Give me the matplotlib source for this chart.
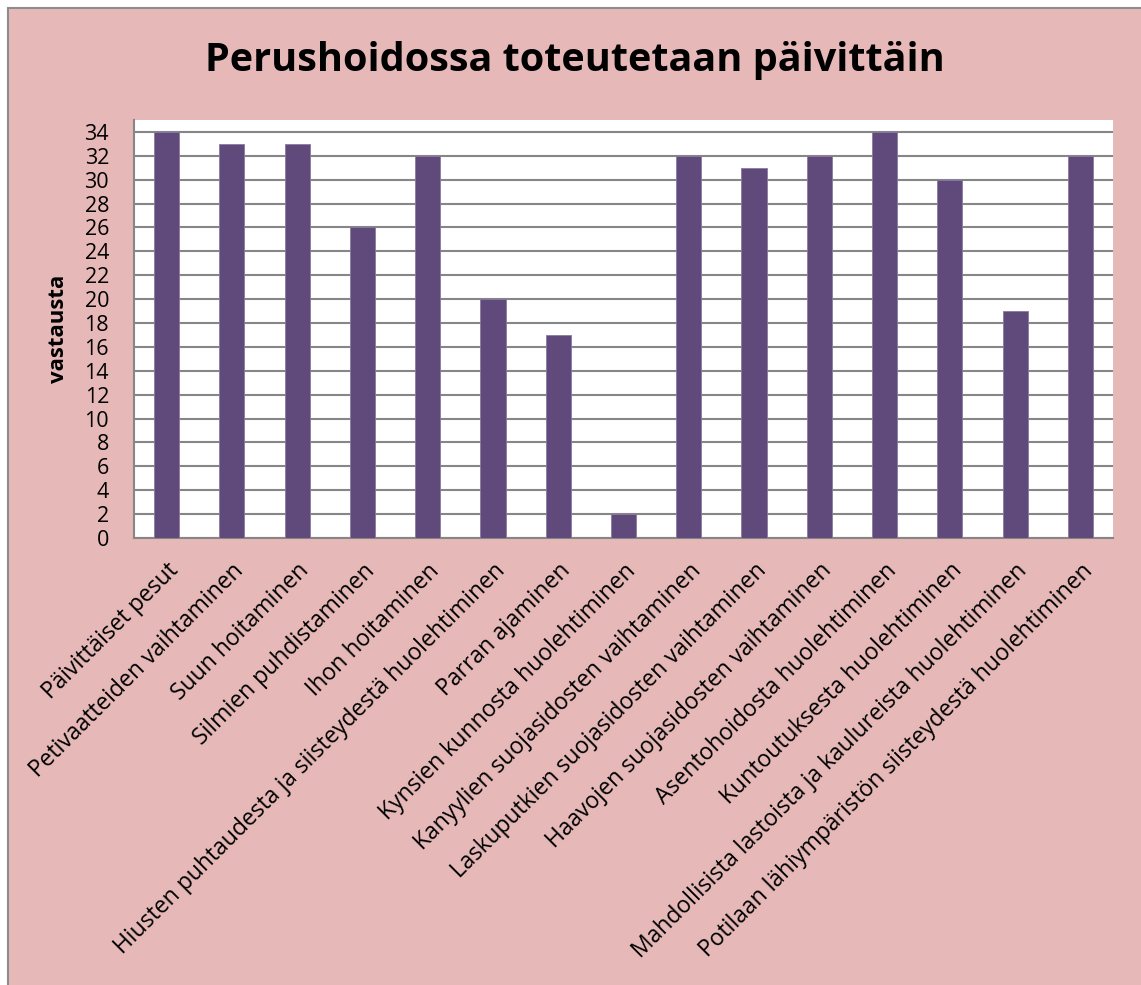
import matplotlib
matplotlib.use("Agg")
import matplotlib.pyplot as plt
from matplotlib.patches import Rectangle

categories = [
    "Päivittäiset pesut",
    "Petivaatteiden vaihtaminen",
    "Suun hoitaminen",
    "Silmien puhdistaminen",
    "Ihon hoitaminen",
    "Hiusten puhtaudesta ja siisteydestä huolehtiminen",
    "Parran ajaminen",
    "Kynsien kunnosta huolehtiminen",
    "Kanyylien suojasidosten vaihtaminen",
    "Laskuputkien suojasidosten vaihtaminen",
    "Haavojen suojasidosten vaihtaminen",
    "Asentohoidosta huolehtiminen",
    "Kuntoutuksesta huolehtiminen",
    "Mahdollisista lastoista ja kaulureista huolehtiminen",
    "Potilaan lähiympäristön siisteydestä huolehtiminen",
]
values = [34, 33, 33, 26, 32, 20, 17, 2, 32, 31, 32, 34, 30, 19, 32]
yticks = list(range(0, 35, 2))

FONT = ["Open Sans", "DejaVu Sans"]
plt.rcParams["font.family"] = FONT

W, H = 1141, 985
fig = plt.figure(figsize=(W / 100, H / 100), dpi=100, facecolor="white")
fig.patches.append(Rectangle((8 / W, -0.01), 1.0, 1 - 8 / H + 0.01,
                             transform=fig.transFigure, facecolor="#E6B9B8",
                             edgecolor="#8C8C8C", linewidth=1.5, zorder=-10))

ax = fig.add_axes([134 / W, 1 - 538 / H, (1113 - 134) / W, (538 - 120) / H])
ax.set_facecolor("white")
x = list(range(len(categories)))
ax.bar(x, values, width=0.385, color="#604A7B", edgecolor="#8B7BA0", linewidth=0.6, zorder=3)
ax.set_xlim(-0.5, len(categories) - 0.5)
ax.set_ylim(0, 35)
ax.set_yticks(yticks)
ax.set_yticklabels([str(v) for v in yticks], fontsize=15.5)
ax.yaxis.grid(True, color="#868686", linewidth=1.5, zorder=0)
ax.set_axisbelow(True)
ax.set_xticks(x)
ax.set_xticklabels(categories, rotation=45, ha="right", rotation_mode="anchor", fontsize=16.5)
ax.tick_params(axis="x", length=0, pad=15)
ax.tick_params(axis="y", length=0, pad=18)
for s in ["top", "right"]:
    ax.spines[s].set_visible(False)
for s in ["left", "bottom"]:
    ax.spines[s].set_color("#868686")
    ax.spines[s].set_linewidth(1.5)
ax.set_ylabel("vastausta", fontsize=16, fontweight="bold", labelpad=11)

fig.text(575 / W, 1 - 60 / H, "Perushoidossa toteutetaan päivittäin",
         ha="center", va="center", fontsize=28.5, fontweight="bold")

fig.savefig("out.png", dpi=100, facecolor=fig.get_facecolor())
